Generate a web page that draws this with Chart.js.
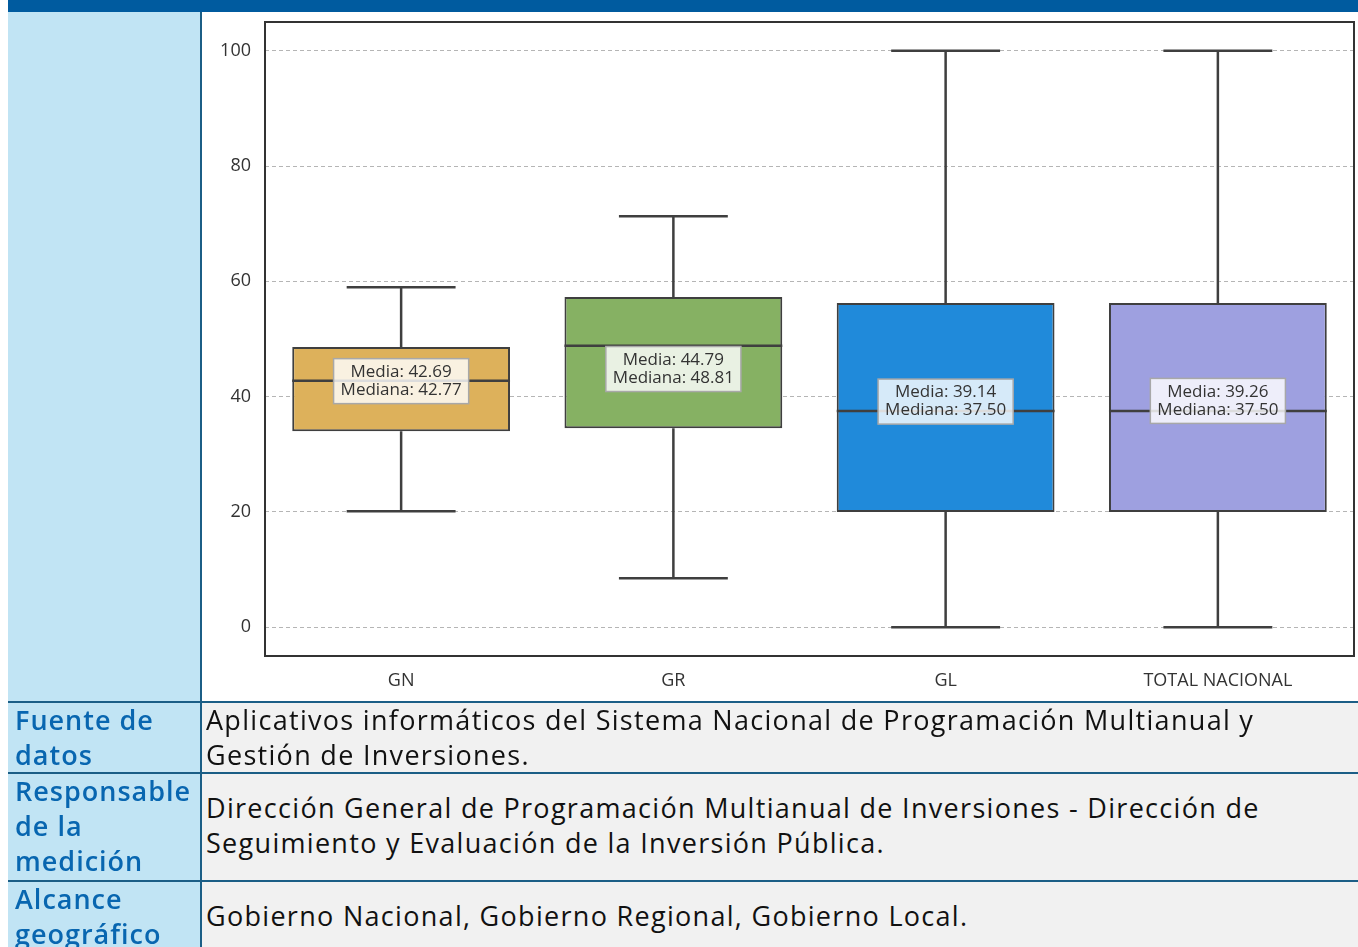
<!DOCTYPE html>
<html>
<head>
<meta charset="utf-8">
<script src="https://cdn.jsdelivr.net/npm/chart.js@4.4.0/dist/chart.umd.min.js"></script>
<style>
  body { margin: 0; background: #fff; font-family: "Open Sans", sans-serif; }
  #page { position: relative; width: 1358px; height: 947px; overflow: hidden; }
  .abs { position: absolute; }
  #topbar { left: 8px; top: 0; width: 1350px; height: 12px; background: #005b9f; }
  #leftcol { left: 8px; top: 12px; width: 192px; height: 935px; background: #c1e4f4; }
  #vline { left: 200px; top: 12px; width: 2px; height: 935px; background: #1b5e86; }
  #chartcell { left: 202px; top: 12px; width: 1156px; height: 690px; background: #fff; }
  .hline { left: 8px; width: 1350px; height: 2px; background: #1b5e86; }
  .body { left: 202px; width: 1156px; background: #f1f1f1; }
  .lbl { left: 15px; color: #0866b0; font-weight: 600; font-size: 27px; line-height: 35px; letter-spacing: 1px; white-space: nowrap; }
  .txt { left: 206px; color: #111; font-size: 27px; line-height: 35px; letter-spacing: 1.3px; white-space: nowrap; }
</style>
</head>
<body>
<div id="page">
  <div id="topbar" class="abs"></div>
  <div id="leftcol" class="abs"></div>
  <div id="chartcell" class="abs"><canvas id="boxChart" width="1156" height="690"></canvas></div>

  <div class="abs body" style="top:703px;height:70px"></div>
  <div class="abs body" style="top:774px;height:106px"></div>
  <div class="abs body" style="top:882px;height:65px"></div>
  <div id="vline" class="abs"></div>
  <div class="abs hline" style="top:701px"></div>
  <div class="abs hline" style="top:772px"></div>
  <div class="abs hline" style="top:880px"></div>

  <div class="abs lbl" style="top:702px">Fuente de<br>datos</div>
  <div class="abs txt" style="top:702px">Aplicativos informáticos del Sistema Nacional de Programación Multianual y<br>Gestión de Inversiones.</div>

  <div class="abs lbl" style="top:773px">Responsable<br>de la<br>medición</div>
  <div class="abs txt" style="top:790px">Dirección General de Programación Multianual de Inversiones - Dirección de<br>Seguimiento y Evaluación de la Inversión Pública.</div>

  <div class="abs lbl" style="top:881px">Alcance<br>geográfico</div>
  <div class="abs txt" style="top:898px">Gobierno Nacional, Gobierno Regional, Gobierno Local.</div>
</div>

<script>
let categories = ['GN', 'GR', 'GL', 'TOTAL NACIONAL'];
let whiskerLow = [20.1, 8.5, 0, 0];
let q1 = [34.0, 34.5, 20.0, 20.0];
let medians = [42.77, 48.81, 37.5, 37.5];
let q3 = [48.6, 57.3, 56.25, 56.25];
let whiskerHigh = [59.0, 71.3, 100, 100];
let means = [42.69, 44.79, 39.14, 39.26];
let yTicks = [0, 20, 40, 60, 80, 100];

let boxColors = ['#ddb15b', '#86b163', '#208ada', '#9ea0e0'];
let lineColor = '#3f3f3f';

function fmt(v) {
  return v.toFixed(2);
}

// whiskers, caps, medians and the Media/Mediana labels
let boxExtras = {
  id: 'boxExtras',
  afterDatasetsDraw(chart) {
    let ctx = chart.ctx;
    let y = chart.scales.y;
    let meta = chart.getDatasetMeta(0);
    ctx.save();
    ctx.strokeStyle = lineColor;
    ctx.lineWidth = 2.5;
    meta.data.forEach(function (bar, i) {
      let x = bar.x;
      let half = bar.width / 2;
      let cap = bar.width / 4;
      ctx.beginPath();
      ctx.moveTo(x, y.getPixelForValue(q3[i]));
      ctx.lineTo(x, y.getPixelForValue(whiskerHigh[i]));
      ctx.moveTo(x, y.getPixelForValue(q1[i]));
      ctx.lineTo(x, y.getPixelForValue(whiskerLow[i]));
      ctx.moveTo(x - cap, y.getPixelForValue(whiskerHigh[i]));
      ctx.lineTo(x + cap, y.getPixelForValue(whiskerHigh[i]));
      ctx.moveTo(x - cap, y.getPixelForValue(whiskerLow[i]));
      ctx.lineTo(x + cap, y.getPixelForValue(whiskerLow[i]));
      ctx.moveTo(x - half, y.getPixelForValue(medians[i]));
      ctx.lineTo(x + half, y.getPixelForValue(medians[i]));
      ctx.stroke();
    });

    ctx.font = '17px "Open Sans"';
    ctx.textAlign = 'center';
    ctx.textBaseline = 'middle';
    meta.data.forEach(function (bar, i) {
      let l1 = 'Media: ' + fmt(means[i]);
      let l2 = 'Mediana: ' + fmt(medians[i]);
      let w = Math.max(ctx.measureText(l1).width, ctx.measureText(l2).width) + 14;
      let h = 45;
      let cy = y.getPixelForValue(means[i]);
      ctx.fillStyle = 'rgba(255,255,255,0.82)';
      ctx.fillRect(bar.x - w / 2, cy - h / 2, w, h);
      ctx.strokeStyle = '#a8a8a8';
      ctx.lineWidth = 1.5;
      ctx.strokeRect(bar.x - w / 2, cy - h / 2, w, h);
      ctx.fillStyle = '#333';
      ctx.fillText(l1, bar.x, cy - 9);
      ctx.fillText(l2, bar.x, cy + 9);
    });
    ctx.restore();
  },
  afterDraw(chart) {
    let a = chart.chartArea;
    let ctx = chart.ctx;
    ctx.save();
    ctx.strokeStyle = '#333';
    ctx.lineWidth = 2;
    ctx.strokeRect(a.left, a.top, a.right - a.left, a.bottom - a.top);
    ctx.restore();
  }
};

let ctx = document.getElementById('boxChart').getContext('2d');
let boxChart = new Chart(ctx, {
  type: 'bar',
  data: {
    labels: categories,
    datasets: [{
      data: q1.map((v, i) => [v, q3[i]]),
      backgroundColor: boxColors,
      borderColor: lineColor,
      borderWidth: 2,
      borderSkipped: false,
      categoryPercentage: 0.8,
      barPercentage: 1.0
    }]
  },
  options: {
    responsive: false,
    animation: false,
    devicePixelRatio: 1,
    layout: { padding: { top: 10, right: 4, left: 0, bottom: 0 } },
    plugins: {
      legend: { display: false },
      tooltip: { enabled: false }
    },
    scales: {
      x: {
        grid: { display: false, drawTicks: false },
        border: { display: false },
        ticks: { color: '#333', padding: 14, font: { family: 'Open Sans', size: 18 } },
        afterFit(scale) {
          scale.height = 46;
          scale.paddingLeft = 0;
          scale.paddingRight = 0;
        }
      },
      y: {
        min: -5,
        max: 105,
        grid: { color: '#b5b5b5', lineWidth: 1, drawTicks: false },
        border: { display: false, dash: [4, 3] },
        ticks: { color: '#333', padding: 14, font: { family: 'Open Sans', size: 18 } },
        afterBuildTicks(scale) { scale.ticks = yTicks.map(v => ({ value: v })); },
        afterFit(scale) {
          scale.width = 63;
          scale.paddingTop = 0;
          scale.paddingBottom = 0;
        }
      }
    }
  },
  plugins: [boxExtras]
});
</script>
</body>
</html>
